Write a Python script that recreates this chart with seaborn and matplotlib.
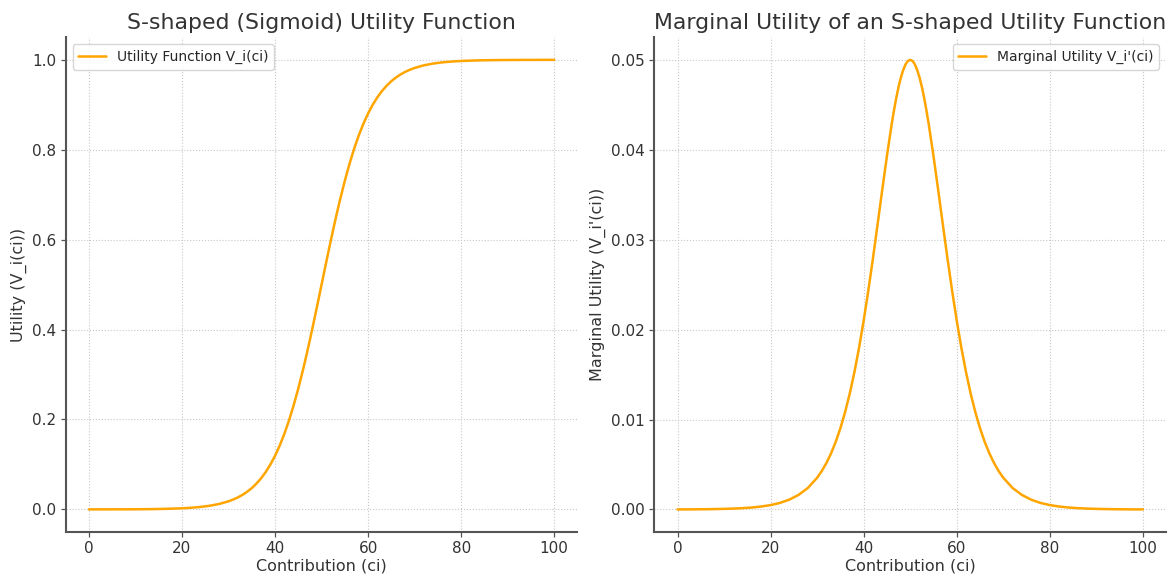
import numpy as np
import pandas as pd
import matplotlib
matplotlib.use("Agg")
import matplotlib.pyplot as plt
import seaborn as sns

contribution = ([0, 2, 4, 6, 8, 10, 12, 14, 16, 18, 20, 22, 24, 26, 28,
                 30, 31, 32, 33, 34, 35, 36, 37, 38, 39, 40, 41, 42, 43, 44, 45, 46,
                 46.5, 47, 47.5, 48, 48.5, 49, 49.5, 50, 50.5, 51, 51.5, 52, 52.5, 53, 53.5,
                 54, 55, 56, 57, 58, 59, 60, 61, 62, 63, 64, 65, 66, 67, 68, 69, 70,
                 72, 74, 76, 78, 80, 82, 84, 86, 88, 90, 92, 94, 96, 98, 100])
utility = [0.0000, 0.0001, 0.0001, 0.0002, 0.0002, 0.0003, 0.0005, 0.0007, 0.0011, 0.0017,
           0.0025, 0.0037, 0.0055, 0.0082, 0.0121,
           0.0180, 0.0219, 0.0266, 0.0323, 0.0392, 0.0474, 0.0573, 0.0691, 0.0832, 0.0998,
           0.1192, 0.1419, 0.1680, 0.1978, 0.2315, 0.2689, 0.3100,
           0.3318, 0.3543, 0.3775, 0.4013, 0.4256, 0.4502, 0.4750, 0.5000, 0.5250, 0.5498,
           0.5744, 0.5987, 0.6225, 0.6457, 0.6682,
           0.6900, 0.7311, 0.7685, 0.8022, 0.8320, 0.8581, 0.8808, 0.9002, 0.9168, 0.9309,
           0.9427, 0.9526, 0.9608, 0.9677, 0.9734, 0.9781, 0.9820,
           0.9879, 0.9918, 0.9945, 0.9963, 0.9975, 0.9983, 0.9989, 0.9993, 0.9995, 0.9997,
           0.9998, 0.9999, 0.9999, 1.0000, 1.0000]
marginal = [0.00001, 0.00001, 0.00002, 0.00003, 0.000045, 0.000067, 0.0001, 0.00015, 0.00022, 0.00033,
            0.00049, 0.00073, 0.00109, 0.00162, 0.00239,
            0.00353, 0.00428, 0.00518, 0.00625, 0.00753, 0.00904, 0.01081, 0.01287, 0.01525, 0.01796,
            0.02100, 0.02435, 0.02795, 0.03174, 0.03558, 0.03932, 0.04278,
            0.04434, 0.04576, 0.04701, 0.04805, 0.04887, 0.04950, 0.04988, 0.05000, 0.04988, 0.04950,
            0.04887, 0.04805, 0.04701, 0.04576, 0.04434,
            0.04278, 0.03932, 0.03558, 0.03174, 0.02795, 0.02435, 0.02100, 0.01796, 0.01525, 0.01287,
            0.01081, 0.00904, 0.00753, 0.00625, 0.00518, 0.00428, 0.00353,
            0.00239, 0.00162, 0.00109, 0.00073, 0.00049, 0.00033, 0.00022, 0.00015, 0.0001, 0.000067,
            0.000045, 0.00003, 0.00002, 0.00001, 0.00001]

df = pd.DataFrame({"c": contribution, "u": utility, "m": marginal})

sns.set_theme(style="whitegrid")
plt.rcParams['font.family'] = ['DejaVu Sans']
plt.rcParams.update({
    "grid.linestyle": ":",
    "grid.color": "#c8c8c8",
    "grid.linewidth": 0.8,
    "axes.edgecolor": "#555555",
    "xtick.bottom": True,
    "ytick.left": True,
    "xtick.color": "#555555",
    "ytick.color": "#555555",
    "xtick.labelcolor": "#333333",
    "ytick.labelcolor": "#333333",
})

fig, axes = plt.subplots(1, 2, figsize=(11.72, 5.75), dpi=100)

ax = axes[0]
sns.lineplot(data=df, x="c", y="u", ax=ax, color="orange", linewidth=1.8,
             label="Utility Function V_i(ci)")
ax.set_title("S-shaped (Sigmoid) Utility Function", fontsize=15.8, color="#333333")
ax.set_xlabel("Contribution (ci)", fontsize=11.5, color="#333333", labelpad=2)
ax.set_ylabel("Utility (V_i(ci))", fontsize=11.5, color="#333333")
ax.legend(loc="upper left", fontsize=10)

ax = axes[1]
sns.lineplot(data=df, x="c", y="m", ax=ax, color="orange", linewidth=1.8,
             label="Marginal Utility V_i'(ci)")
ax.set_title("Marginal Utility of an S-shaped Utility Function", fontsize=15.8, color="#333333")
ax.set_xlabel("Contribution (ci)", fontsize=11.5, color="#333333", labelpad=2)
ax.set_ylabel("Marginal Utility (V_i'(ci))", fontsize=11.5, color="#333333")
ax.legend(loc="upper right", fontsize=10)

for ax in axes:
    ax.tick_params(labelsize=11, length=3.5, width=0.9, pad=3)
    for s in ["top", "right"]:
        ax.spines[s].set_visible(False)
    for s in ["left", "bottom"]:
        ax.spines[s].set_linewidth(1.5)

fig.subplots_adjust(left=0.056, right=0.995, top=0.935, bottom=0.075, wspace=0.15)
fig.savefig("out.png", dpi=100)
